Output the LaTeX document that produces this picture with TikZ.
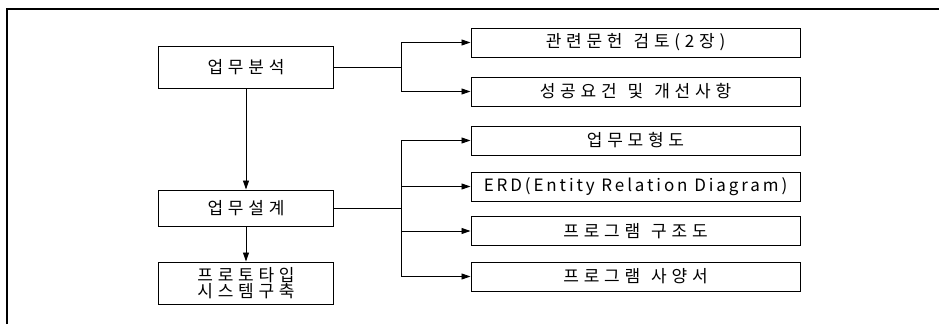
\documentclass[tikz,border=0pt]{standalone}
\usepackage{fontspec}
\newfontfamily\kr[LetterSpace=28]{Noto Sans CJK KR}
\newfontfamily\krl[LetterSpace=17]{Noto Sans CJK KR}
\newcommand\wsp{\hspace{11pt}}
\usetikzlibrary{arrows.meta}
\begin{document}
\begin{tikzpicture}[x=1pt,y=-1pt,
  box/.style={draw,line width=1pt,inner sep=0pt,font=\kr\fontsize{17}{16}\selectfont},
  lbox/.style={box,minimum width=175pt},
  rbox/.style={box,minimum width=329pt,minimum height=29pt},
  arr/.style={line width=0.9pt,-{Triangle[length=9pt,width=6pt]}},
  ln/.style={line width=0.9pt}]
\useasboundingbox (0,0) rectangle (939,324);
\draw[line width=2pt] (7,324) -- (7,9) -- (939,9);
\node[lbox,minimum height=42pt] (a) at (246,67) {업무분석};
\node[lbox,minimum height=36pt] (b) at (246,208) {업무설계};
\node[lbox,minimum height=42pt,align=center] (c) at (246,283) {프로토타입\\시스템구축};
\node[rbox] (r1) at (635.5,42.5) {관련문헌\wsp 검토(2장)};
\node[rbox] (r2) at (635.5,91.5) {성공요건\wsp 및\wsp 개선사항};
\node[rbox] (r3) at (635.5,140.5) {업무모형도};
\node[rbox,font=\krl\fontsize{17}{16}\selectfont] (r4) at (635.5,186.5) {ERD(Entity Relation Diagram)};
\node[rbox] (r5) at (635.5,231) {프로그램\wsp 구조도};
\node[rbox] (r6) at (635.5,276.5) {프로그램\wsp 사양서};
\coordinate (ja) at (401,67);
\coordinate (jb) at (401,208);
\draw[ln] (a.east) -- (ja);
\draw[arr] (ja) |- (r1.west);
\draw[arr] (ja) |- (r2.west);
\draw[ln] (b.east) -- (jb);
\draw[arr] (jb) |- (r3.west);
\draw[arr] (jb) |- (r4.west);
\draw[arr] (jb) |- (r5.west);
\draw[arr] (jb) |- (r6.west);
\draw[arr] (a.south) -- (b.north);
\draw[arr] (b.south) -- (c.north);
\end{tikzpicture}
\end{document}
